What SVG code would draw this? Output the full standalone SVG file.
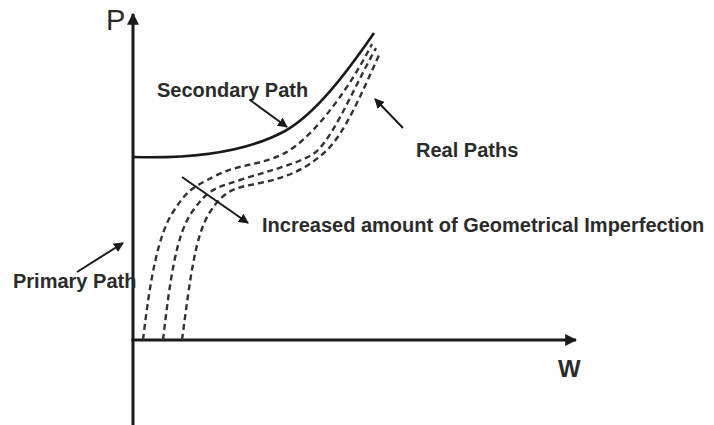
<svg xmlns="http://www.w3.org/2000/svg" width="714" height="425" viewBox="0 0 714 425">
  <style>
    .lbl { font-family: "Liberation Sans", Arial, sans-serif; font-weight: bold; font-size: 20px; fill: #2b2b2b; }
    .axlbl { font-family: "Liberation Sans", Arial, sans-serif; fill: #2b2b2b; }
    .axis { stroke: #1a1a1a; stroke-width: 3; fill: none; }
    .solid { stroke: #1a1a1a; stroke-width: 2.6; fill: none; }
    .dash { stroke: #333; stroke-width: 2.4; fill: none; stroke-dasharray: 6 4; }
    .ptr { stroke: #1a1a1a; stroke-width: 2; fill: none; }
  </style>
  <defs>
    <marker id="ah" viewBox="0 0 10 10" refX="9" refY="5" markerWidth="10" markerHeight="10" markerUnits="userSpaceOnUse" orient="auto">
      <path d="M0,0 L10,5 L0,10 z" fill="#1a1a1a"/>
    </marker>
    <marker id="axh" viewBox="0 0 10 10" refX="9" refY="5" markerWidth="12" markerHeight="12" markerUnits="userSpaceOnUse" orient="auto">
      <path d="M0,0 L10,5 L0,10 z" fill="#1a1a1a"/>
    </marker>
  </defs>
  <rect width="714" height="425" fill="#ffffff"/>

  <g id="axes">
    <line class="axis" x1="133" y1="425" x2="133" y2="14" marker-end="url(#axh)"/>
    <line class="axis" x1="131.5" y1="340" x2="576" y2="340" marker-end="url(#axh)"/>
    <text class="axlbl" x="106" y="30" font-size="29">P</text>
    <text class="axlbl" x="558" y="377" font-size="24" font-weight="bold">W</text>
  </g>

  <g id="secondary-path">
    <path class="solid" d="M133,157 C200,159 250,150 285,131 C315,114 345,75 374,33"/>
  </g>

  <g id="real-paths">
    <path class="dash" d="M143,340 C150,280 158,235 173,212 S192,188 215,176 S258,166 283,154 S345,97 372,44"/>
    <path class="dash" d="M163,340 C170,280 176,235 192,212 S215,188 240,180 S290,166 310,156 S350,95 376,48"/>
    <path class="dash" d="M182,340 C190,280 195,235 210,212 S235,188 260,183 S305,170 325,152 S362,92 380,53"/>
  </g>

  <g id="label-secondary">
    <text class="lbl" x="157" y="97">Secondary Path</text>
  </g>
  <g id="label-real">
    <text class="lbl" x="416" y="157">Real Paths</text>
  </g>
  <g id="label-increased">
    <text class="lbl" x="262" y="232">Increased amount of Geometrical Imperfection</text>
  </g>
  <g id="label-primary">
    <text class="lbl" x="13" y="288" font-size="19.5">Primary Path</text>
  </g>

  <g id="connectors">
    <line class="ptr" x1="250" y1="100" x2="287" y2="127" marker-end="url(#ah)"/>
    <line class="ptr" x1="403" y1="128" x2="375" y2="99" marker-end="url(#ah)"/>
    <line class="ptr" x1="182" y1="177" x2="248" y2="223" marker-end="url(#ah)"/>
    <line class="ptr" x1="77" y1="272" x2="123" y2="243" marker-end="url(#ah)"/>
  </g>
</svg>
